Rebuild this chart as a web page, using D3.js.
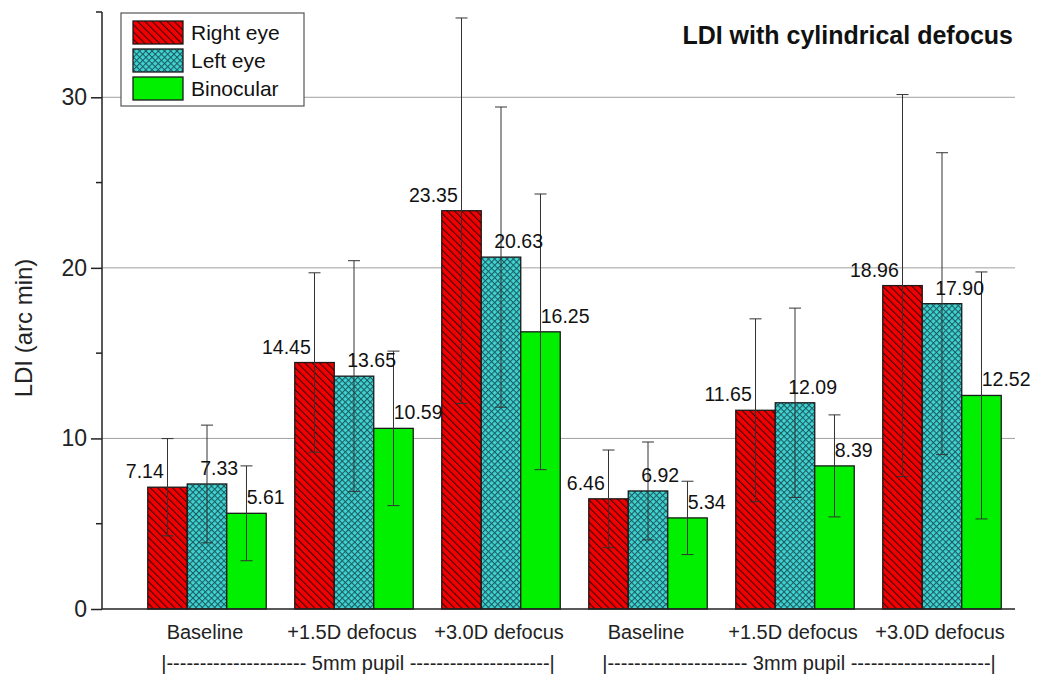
<!DOCTYPE html>
<html>
<head>
<meta charset="utf-8">
<title>LDI with cylindrical defocus</title>
<script src="https://d3js.org/d3.v7.min.js"></script>
<style>
  body { margin: 0; background: #fff; }
  svg { display: block; font-family: "Liberation Sans", Arial, sans-serif; }
  .grid line { stroke: #a0a0a0; stroke-width: 1; }
  .axis path, .axis line { stroke: #222; stroke-width: 1.5; }
  .err { stroke: #333; stroke-width: 1; }
</style>
</head>
<body>
<div id="chart"></div>
<script>
// conditions along the x axis
const groupLabels = ["Baseline", "+1.5D defocus", "+3.0D defocus", "Baseline", "+1.5D defocus", "+3.0D defocus"];
const pupils = ["5mm pupil", "3mm pupil"];
const series = ["Right eye", "Left eye", "Binocular"];

// means (arc min)
const rightEye  = [7.14, 14.45, 23.35, 6.46, 11.65, 18.96];
const leftEye   = [7.33, 13.65, 20.63, 6.92, 12.09, 17.90];
const binocular = [5.61, 10.59, 16.25, 5.34, 8.39, 12.52];

// error bar half-lengths
const rightErr = [2.85, 5.26, 11.3, 2.86, 5.36, 11.2];
const leftErr  = [3.45, 6.77, 8.8, 2.87, 5.55, 8.85];
const binoErr  = [2.78, 4.53, 8.08, 2.15, 2.99, 7.24];

const yMajor = [0, 10, 20, 30];
const yMinor = [5, 15, 25, 35];

const width = 1041, height = 682;
const x0 = 102, x1 = 1015, yTop = 12, yBot = 609;

const svg = d3.select("#chart").append("svg")
    .attr("width", width)
    .attr("height", height);

// patterns
const defs = svg.append("defs");
let hatch = defs.append("pattern")
    .attr("id", "hatchRed")
    .attr("patternUnits", "userSpaceOnUse")
    .attr("width", 5.2).attr("height", 5.2)
    .attr("patternTransform", "rotate(-45)");
hatch.append("rect").attr("width", 5.2).attr("height", 5.2).attr("fill", "#f00000");
hatch.append("line").attr("x1", 0.5).attr("y1", 0).attr("x2", 0.5).attr("y2", 5.2)
    .attr("stroke", "#3a0000").attr("stroke-width", 1.1);

let cross = defs.append("pattern")
    .attr("id", "crossTeal")
    .attr("patternUnits", "userSpaceOnUse")
    .attr("width", 4.4).attr("height", 4.4)
    .attr("patternTransform", "rotate(45)");
cross.append("rect").attr("width", 4.4).attr("height", 4.4).attr("fill", "#3fd3d3");
cross.append("line").attr("x1", 0.5).attr("y1", 0).attr("x2", 0.5).attr("y2", 4.4)
    .attr("stroke", "#1d5a5e").attr("stroke-width", 1.1);
cross.append("line").attr("x1", 0).attr("y1", 0.5).attr("x2", 4.4).attr("y2", 0.5)
    .attr("stroke", "#1d5a5e").attr("stroke-width", 1.1);

const fills = ["url(#hatchRed)", "url(#crossTeal)", "#00f000"];

// scales
const y = d3.scaleLinear().domain([0, 35]).range([yBot, yTop]);

const x = d3.scaleBand()
    .domain(d3.range(groupLabels.length))
    .range([133.5, 1015.5])
    .paddingInner(0.194)
    .paddingOuter(0.097);

const xs = d3.scaleBand()
    .domain(d3.range(series.length))
    .range([0, x.bandwidth()]);

// gridlines
svg.append("g").attr("class", "grid")
  .selectAll("line")
  .data(yMajor.filter(d => d > 0))
  .join("line")
    .attr("x1", x0).attr("x2", x1)
    .attr("y1", d => y(d)).attr("y2", d => y(d));

// bars
const means = [rightEye, leftEye, binocular];
const errs = [rightErr, leftErr, binoErr];
const bars = [];
groupLabels.forEach((g, i) => {
  series.forEach((s, j) => {
    bars.push({ g: i, s: j, v: means[j][i], e: errs[j][i] });
  });
});

svg.append("g")
  .selectAll("rect")
  .data(bars)
  .join("rect")
    .attr("x", d => x(d.g) + xs(d.s))
    .attr("y", d => y(d.v))
    .attr("width", xs.bandwidth())
    .attr("height", d => y(0) - y(d.v))
    .attr("fill", d => fills[d.s])
    .attr("stroke", "#1a1a1a")
    .attr("stroke-width", 1.3);

// error bars
const eg = svg.append("g").attr("class", "err");
bars.forEach(d => {
  const cx = x(d.g) + xs(d.s) + xs.bandwidth() / 2;
  const top = y(d.v + d.e), bot = y(d.v - d.e);
  eg.append("line").attr("x1", cx).attr("x2", cx).attr("y1", top).attr("y2", bot);
  eg.append("line").attr("x1", cx - 6).attr("x2", cx + 6).attr("y1", top).attr("y2", top);
  eg.append("line").attr("x1", cx - 6).attr("x2", cx + 6).attr("y1", bot).attr("y2", bot);
});

// value labels
svg.append("g")
  .selectAll("text")
  .data(bars)
  .join("text")
    .attr("x", d => {
      const left = x(d.g) + xs(d.s);
      return d.s === 0 ? left + 16 : d.s === 1 ? left + 13 : left + 20;
    })
    .attr("y", d => y(d.v) - 9)
    .attr("text-anchor", d => d.s === 0 ? "end" : "start")
    .attr("font-size", 19.5)
    .attr("fill", "#111")
    .text(d => d.v.toFixed(2));

// y axis
const yAxis = svg.append("g").attr("class", "axis")
    .attr("transform", `translate(${x0},0)`)
    .call(d3.axisLeft(y).tickValues(yMajor).tickSize(11).tickSizeOuter(0).tickPadding(4));
yAxis.selectAll("text").attr("font-size", 23).attr("fill", "#222")
    .attr("font-family", "Liberation Sans, Arial, sans-serif");
yAxis.select(".domain").attr("d", `M0,${yTop}V${yBot}`);
yAxis.append("g").selectAll("line")
  .data(yMinor)
  .join("line")
    .attr("x1", -6).attr("x2", 0)
    .attr("y1", d => y(d)).attr("y2", d => y(d));

// x axis line
svg.append("line")
    .attr("x1", x0).attr("x2", x1)
    .attr("y1", yBot).attr("y2", yBot)
    .attr("stroke", "#222").attr("stroke-width", 1.5);

// x labels
svg.append("g")
  .selectAll("text")
  .data(groupLabels)
  .join("text")
    .attr("x", (d, i) => x(i) + x.bandwidth() / 2 - 2)
    .attr("y", 639)
    .attr("text-anchor", "middle")
    .attr("font-size", 20)
    .attr("fill", "#222")
    .text(d => d);

const dashes = "-".repeat(21);
svg.append("g")
  .selectAll("text")
  .data(pupils)
  .join("text")
    .attr("x", (d, i) => (x(i * 3) + x(i * 3 + 2) + x.bandwidth()) / 2 + 4)
    .attr("y", 670)
    .attr("text-anchor", "middle")
    .attr("font-size", 20)
    .attr("fill", "#222")
    .text(d => `|${dashes} ${d} ${dashes}|`);

// y title
svg.append("text")
    .attr("transform", "translate(32,328) rotate(-90)")
    .attr("text-anchor", "middle")
    .attr("font-size", 24)
    .attr("fill", "#222")
    .text("LDI (arc min)");

// chart title
svg.append("text")
    .attr("x", 1013).attr("y", 44)
    .attr("text-anchor", "end")
    .attr("font-size", 25)
    .attr("font-weight", "bold")
    .attr("fill", "#111")
    .text("LDI with cylindrical defocus");

// legend
const lg = svg.append("g").attr("transform", "translate(121,13)");
lg.append("rect")
    .attr("width", 183).attr("height", 93)
    .attr("fill", "#fff").attr("stroke", "#555").attr("stroke-width", 1.2);
series.forEach((s, j) => {
  lg.append("rect")
      .attr("x", 12).attr("y", 8 + j * 28)
      .attr("width", 50).attr("height", 23)
      .attr("fill", fills[j])
      .attr("stroke", "#1a1a1a").attr("stroke-width", 1.3);
  lg.append("text")
      .attr("x", 70).attr("y", 27 + j * 28)
      .attr("font-size", 21)
      .attr("fill", "#111")
      .text(s);
});
</script>
</body>
</html>
